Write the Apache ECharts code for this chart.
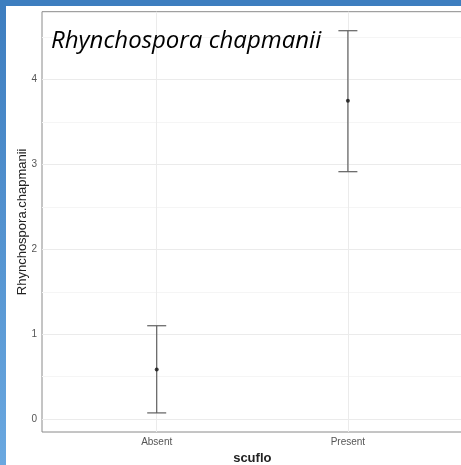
<!DOCTYPE html>
<html><head><meta charset="utf-8">
<script src="https://cdn.jsdelivr.net/npm/echarts@6/dist/echarts.min.js"></script>
<style>html,body{margin:0;padding:0;background:#fff}#c{width:461px;height:465px}</style>
</head><body><div id="c"></div>
<script>
const categories = ['Absent', 'Present'];
const means = [0.583, 3.75];
const lowers = [0.073, 2.915];
const uppers = [1.10, 4.576];
const yTicks = [0, 1, 2, 3, 4];
const yMinor = [0.5, 1.5, 2.5, 3.5, 4.5];

const chart = echarts.init(document.getElementById('c'), null, {renderer: 'canvas'});
const gridLineMajor = '#ebebeb', gridLineMinor = '#f5f5f5';
const idx = categories.map((c, i) => i);

chart.setOption({
  animation: false,
  backgroundColor: '#ffffff',
  graphic: [
    {type: 'rect', shape: {x: 0, y: 0, width: 6, height: 465}, style: {fill: new echarts.graphic.LinearGradient(0, 0, 0, 1, [{offset: 0, color: '#3d7dbf'}, {offset: 1, color: '#6aa8e0'}])}, z: 100},
    {type: 'rect', shape: {x: 0, y: 0, width: 461, height: 6}, style: {fill: '#3d7ebf'}, z: 100},
    {type: 'text', left: 51, top: 29, style: {text: 'Rhynchospora chapmanii', font: 'italic 24px "Open Sans"', fill: '#000'}, z: 100}
  ],
  grid: {left: 42, top: 11.7, width: 420.6, height: 420.3, show: true, borderColor: '#8a8a8a', borderWidth: 1, backgroundColor: 'transparent', outerBoundsMode: 'none', containLabel: false},
  xAxis: {
    type: 'value', min: -0.6, max: 1.6,
    name: 'scuflo', nameLocation: 'middle', nameGap: 20, nameMoveOverlap: false,
    nameTextStyle: {fontFamily: 'Liberation Sans', fontWeight: 'bold', fontSize: 13, color: '#222'},
    axisLine: {show: false},
    axisTick: {show: true, customValues: idx, length: 3, lineStyle: {color: '#888'}},
    axisLabel: {customValues: idx, formatter: v => categories[Math.round(v)], fontFamily: 'Liberation Sans', fontSize: 10, color: '#555', margin: 5},
    splitLine: {show: false}
  },
  yAxis: {
    type: 'value', min: -0.152, max: 4.80,
    name: 'Rhynchospora.chapmanii', nameLocation: 'middle', nameGap: 13, nameMoveOverlap: false,
    nameTextStyle: {fontFamily: 'Liberation Sans', fontSize: 13, color: '#222'},
    axisLine: {show: false},
    axisTick: {show: true, customValues: yTicks, length: 3, lineStyle: {color: '#888'}},
    axisLabel: {customValues: yTicks, fontFamily: 'Liberation Sans', fontSize: 10, color: '#555', margin: 5},
    splitLine: {show: false}
  },
  series: [
    {
      type: 'line', data: [], z: 1, silent: true,
      markLine: {
        silent: true, symbol: 'none', label: {show: false}, animation: false,
        data: [
          ...yMinor.map(v => ({yAxis: v, lineStyle: {color: gridLineMinor, width: 1, type: 'solid'}})),
          ...yTicks.map(v => ({yAxis: v, lineStyle: {color: gridLineMajor, width: 1, type: 'solid'}})),
          ...idx.map(v => ({xAxis: v, lineStyle: {color: gridLineMajor, width: 1, type: 'solid'}}))
        ]
      }
    },
    {
      type: 'custom', z: 5,
      data: idx.map(i => [i, lowers[i], uppers[i]]),
      renderItem: function (params, api) {
        const lo = api.coord([api.value(0), api.value(1)]);
        const hi = api.coord([api.value(0), api.value(2)]);
        const half = 9.5;
        const st = {stroke: '#606060', lineWidth: 1.2};
        return {type: 'group', children: [
          {type: 'line', shape: {x1: lo[0], y1: lo[1], x2: hi[0], y2: hi[1]}, style: st},
          {type: 'line', shape: {x1: lo[0] - half, y1: lo[1], x2: lo[0] + half, y2: lo[1]}, style: st},
          {type: 'line', shape: {x1: hi[0] - half, y1: hi[1], x2: hi[0] + half, y2: hi[1]}, style: st}
        ]};
      }
    },
    {
      type: 'scatter', z: 6, symbolSize: 4,
      itemStyle: {color: '#111'},
      data: idx.map(i => [i, means[i]])
    }
  ]
});
</script></body></html>
